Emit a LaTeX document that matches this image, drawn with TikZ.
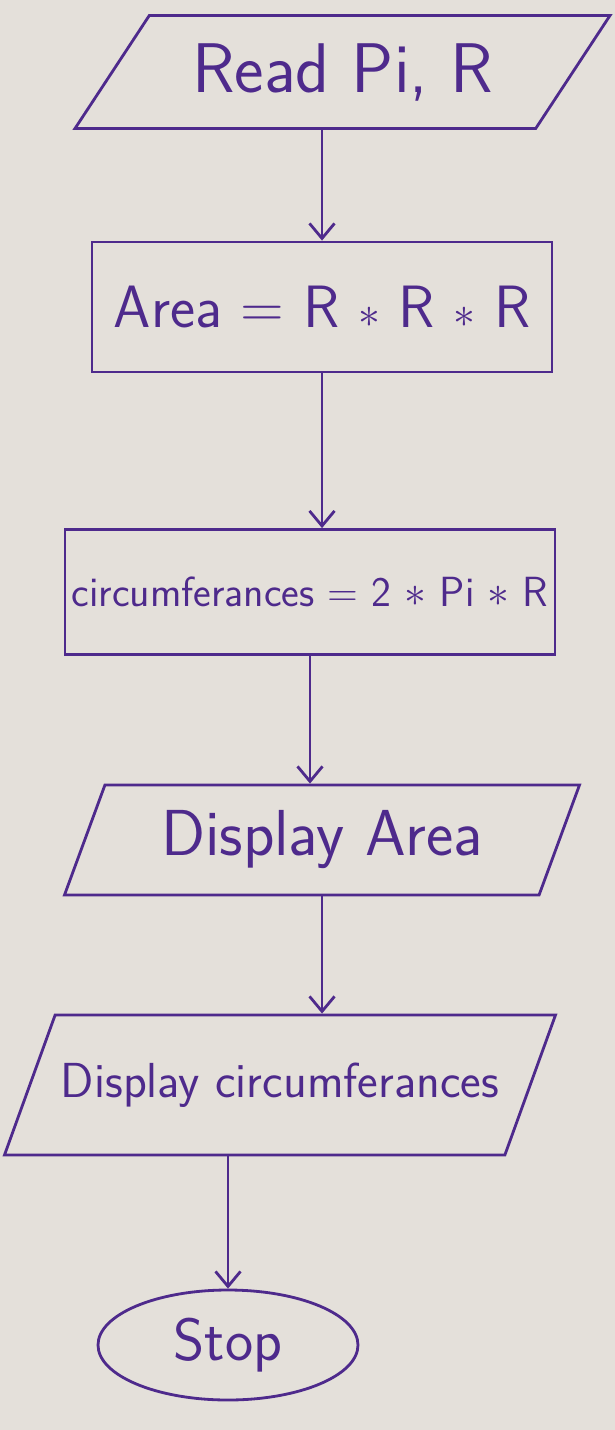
\documentclass[tikz,border=0pt]{standalone}
\usetikzlibrary{arrows.meta, positioning, shapes.geometric}

\definecolor{ink}{RGB}{78,42,140}
\definecolor{paper}{RGB}{228,224,218}

\tikzset{
    io/.style={draw, trapezium, trapezium stretches body=true, text=ink},
    process/.style={draw, rectangle, text=ink},
    term/.style={draw, ellipse, text=ink},
}

\begin{document}
\begin{tikzpicture}[>={Straight Barb[length=3mm,width=5mm]}, draw=ink, line width=1.6pt, font=\sffamily]
    % Paper
    \fill[paper] (0,0) rectangle (12.3,-28.6);
    \useasboundingbox (0,0) rectangle (12.3,-28.6);

    % Nodes
    \node[io, trapezium left angle=43, trapezium right angle=137, minimum width=10.7cm, minimum height=2.26cm, font=\sffamily\fontsize{40}{44}\selectfont] (read) at (6.85,-1.44) {Read Pi, R};
    \node[process, minimum width=9.2cm, minimum height=2.6cm, font=\sffamily\fontsize{34}{40}\selectfont] (area) at (6.44,-6.14) {Area = R $*$ R $*$ R};
    \node[process, minimum width=9.8cm, minimum height=2.5cm, font=\sffamily\fontsize{24}{28}\selectfont] (circ) at (6.2,-11.84) {circumferances = 2 $*$ Pi $*$ R};
    \node[io, trapezium left angle=60, trapezium right angle=120, minimum width=10.3cm, minimum height=2.2cm, font=\sffamily\fontsize{37}{42}\selectfont] (disparea) at (6.44,-16.8) {Display Area};
    \node[io, trapezium left angle=48, trapezium right angle=132, minimum width=10.8cm, minimum height=2.8cm, font=\sffamily\fontsize{28}{32}\selectfont] (dispcirc) at (5.6,-21.7) {Display circumferances};
    \node[term, minimum width=5.2cm, minimum height=2.2cm, font=\sffamily\fontsize{34}{38}\selectfont] (stop) at (4.56,-26.9) {Stop};

    % Arrows
    \draw[->, ink] (area.north |- read.south) -- (area.north);
    \draw[->, ink] (area.south) -- (area.south |- circ.north);
    \draw[->, ink] (circ.south) -- (circ.south |- disparea.north);
    \draw[->, ink] (disparea.south) -- (disparea.south |- dispcirc.north);
    \draw[->, ink] (stop.north |- dispcirc.south) -- (stop.north);
\end{tikzpicture}
\end{document}
